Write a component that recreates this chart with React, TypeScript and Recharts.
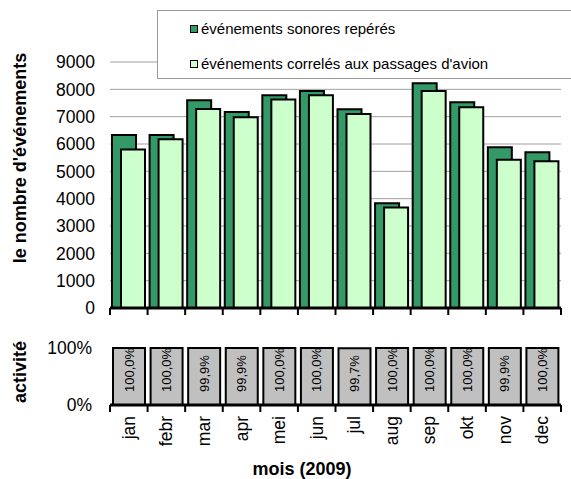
import React from "react";
import {
	BarChart,
	Bar,
	XAxis,
	YAxis,
	CartesianGrid,
	Legend,
	LabelList,
} from "recharts";

const MONTHS = ["jan", "febr", "mar", "apr", "mei", "jun", "jul", "aug", "sep", "okt", "nov", "dec"];
const EVENTS_DETECTED = [6330, 6330, 7600, 7170, 7780, 7940, 7270, 3830, 8220, 7530, 5880, 5700];
const EVENTS_AIRCRAFT = [5800, 6170, 7280, 6980, 7630, 7780, 7100, 3680, 7940, 7340, 5420, 5370];
const ACTIVITY = [100.0, 100.0, 99.9, 99.9, 100.0, 100.0, 99.7, 100.0, 100.0, 100.0, 99.9, 100.0];
const Y_TICKS = [0, 1000, 2000, 3000, 4000, 5000, 6000, 7000, 8000, 9000];
const PCT_TICKS = [0, 100];

const SERIES_NAMES = ["événements sonores repérés", "événements correlés aux passages d'avion"];

const topData = MONTHS.map((m, i) => ({
	month: m,
	detected: EVENTS_DETECTED[i],
	aircraft: EVENTS_AIRCRAFT[i],
}));
const bottomData = MONTHS.map((m, i) => ({ month: m, activity: ACTIVITY[i] }));

const FONT = "'Liberation Sans', Arial, sans-serif";
const DARK = "#339966";
const LIGHT = "#CCFFCC";
const GREY = "#C0C0C0";
const HALF_BAND = 451 / 24;

// tick marks sit on the category boundaries, like in Excel
const BoundaryTick = (props: any) => {
	const { x, y, payload, index, showLabel } = props;
	const half = payload && payload.offset ? payload.offset : HALF_BAND;
	return (
		<g>
			<line x1={x - half} x2={x - half} y1={y} y2={y + 7} stroke="#000" strokeWidth={2} />
			{index === MONTHS.length - 1 && (
				<line x1={x + half} x2={x + half} y1={y} y2={y + 7} stroke="#000" strokeWidth={2} />
			)}
			{showLabel && (
				<text
					x={x}
					y={y + 11}
					transform={`rotate(-90, ${x}, ${y + 11})`}
					textAnchor="end"
					dominantBaseline="central"
					fontSize={17.5}
					fontFamily={FONT}
					fill="#000"
				>
					{payload.value}
				</text>
			)}
		</g>
	);
};

const ActivityLabel = (props: any) => {
	const { x, y, width, height, value } = props;
	const cx = x + width / 2;
	const by = y + height - 13;
	return (
		<text
			x={cx}
			y={by}
			transform={`rotate(-90, ${cx}, ${by})`}
			textAnchor="start"
			dominantBaseline="central"
			fontSize={13}
			fontFamily={FONT}
			fill="#000"
		>
			{Number(value).toFixed(1).replace(".", ",") + "%"}
		</text>
	);
};

const renderLegend = (props: any) => {
	const items = [...(props.payload || [])].sort(
		(a: any, b: any) => SERIES_NAMES.indexOf(a.value) - SERIES_NAMES.indexOf(b.value)
	);
	return (
		<div
			style={{
				width: 414,
				height: 67,
				background: "#fff",
				borderTop: "1px solid #999",
				borderBottom: "1px solid #999",
				borderLeft: "1px solid #999",
				position: "relative",
				fontFamily: FONT,
				fontSize: 15,
				color: "#000",
			}}
		>
			{items.map((entry: any, i: number) => (
				<div
					key={entry.value}
					style={{
						position: "absolute",
						left: 32,
						top: i === 0 ? 9 : 44,
						display: "flex",
						alignItems: "center",
						whiteSpace: "nowrap",
					}}
				>
					<span
						style={{
							display: "inline-block",
							width: 6,
							height: 6,
							border: "1.5px solid #000",
							background: entry.color,
							marginRight: 3,
						}}
					/>
					<span>{entry.value}</span>
				</div>
			))}
		</div>
	);
};

export default function App() {
	return (
		<div
			style={{
				position: "absolute",
				left: 0,
				top: 0,
				width: 571,
				height: 479,
				overflow: "hidden",
				background: "#fff",
				fontFamily: FONT,
			}}
		>
			<div style={{ position: "absolute", left: 0, top: 0 }}>
				<BarChart
					width={571}
					height={320}
					data={topData}
					margin={{ top: 62, right: 10, left: 0, bottom: 0 }}
					barGap={-15}
				>
					<CartesianGrid vertical={false} stroke="#a0a0a0" />
					<XAxis
						dataKey="month"
						height={12}
						tickLine={false}
						tickSize={0}
						tickMargin={0}
						axisLine={{ stroke: "#000", strokeWidth: 3 }}
						tick={<BoundaryTick showLabel={false} />}
						interval={0}
					/>
					<YAxis
						domain={[0, 9000]}
						ticks={Y_TICKS}
						interval={0}
						width={110}
						axisLine={false}
						tickLine={false}
						tickSize={6}
						tickMargin={9}
						tick={{ fontSize: 17.5, fill: "#000", fontFamily: FONT }}
					/>
					<Legend
						layout="vertical"
						align="center"
						verticalAlign="middle"
						content={renderLegend}
						wrapperStyle={{ position: "absolute", left: 157, top: 10, width: 414, height: 69 }}
					/>
					<Bar
						dataKey="detected"
						name={SERIES_NAMES[0]}
						fill={DARK}
						stroke="#000"
						strokeWidth={2}
						barSize={24}
						isAnimationActive={false}
					/>
					<Bar
						dataKey="aircraft"
						name={SERIES_NAMES[1]}
						fill={LIGHT}
						stroke="#000"
						strokeWidth={2}
						barSize={24}
						isAnimationActive={false}
					/>
				</BarChart>
			</div>
			<div style={{ position: "absolute", left: 0, top: 330 }}>
				<BarChart
					width={571}
					height={149}
					data={bottomData}
					margin={{ top: 18, right: 10, left: 0, bottom: 0 }}
				>
					<XAxis
						dataKey="month"
						height={74}
						tickLine={false}
						tickSize={0}
						tickMargin={0}
						axisLine={{ stroke: "#000", strokeWidth: 3 }}
						tick={<BoundaryTick showLabel={true} />}
						interval={0}
					/>
					<YAxis
						domain={[0, 100]}
						ticks={PCT_TICKS}
						interval={0}
						tickFormatter={(v: number) => v + "%"}
						width={110}
						axisLine={false}
						tickLine={false}
						tickSize={6}
						tickMargin={12}
						tick={{ fontSize: 17.5, fill: "#000", fontFamily: FONT }}
					/>
					<Bar
						dataKey="activity"
						fill={GREY}
						stroke="#000"
						strokeWidth={2}
						barSize={32}
						isAnimationActive={false}
					>
						<LabelList dataKey="activity" content={<ActivityLabel />} />
					</Bar>
				</BarChart>
			</div>
			<svg
				width={571}
				height={479}
				style={{ position: "absolute", left: 0, top: 0, pointerEvents: "none" }}
			>
				<text
					x={20}
					y={158}
					transform="rotate(-90, 20, 158)"
					textAnchor="middle"
					dominantBaseline="central"
					fontSize={18}
					fontWeight="bold"
					fontFamily={FONT}
				>
					le nombre d'événements
				</text>
				<text
					x={20}
					y={372}
					transform="rotate(-90, 20, 372)"
					textAnchor="middle"
					dominantBaseline="central"
					fontSize={18}
					fontWeight="bold"
					fontFamily={FONT}
				>
					activité
				</text>
				<text
					x={302}
					y={469}
					textAnchor="middle"
					dominantBaseline="central"
					fontSize={18}
					fontWeight="bold"
					fontFamily={FONT}
				>
					mois (2009)
				</text>
			</svg>
		</div>
	);
}
